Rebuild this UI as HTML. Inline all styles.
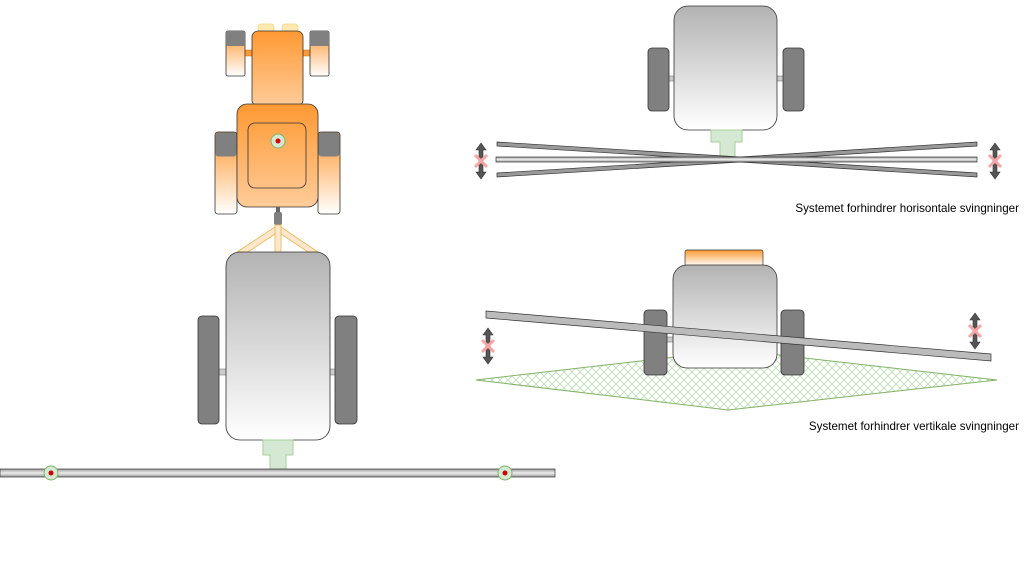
<!DOCTYPE html>
<html><head><meta charset="utf-8"><style>
html,body{margin:0;padding:0;background:#fff;width:1024px;height:580px;overflow:hidden}
svg{display:block}
text{font-family:"Liberation Sans",sans-serif;font-size:11.6px;fill:#000}
</style></head><body>
<svg width="1024" height="580" viewBox="0 0 1024 580" xmlns="http://www.w3.org/2000/svg">
<defs>
<linearGradient id="or" x1="0" y1="0" x2="0" y2="1"><stop offset="0" stop-color="#ff9933"/><stop offset="1" stop-color="#ffcc99"/></linearGradient>
<linearGradient id="orw" x1="0" y1="0" x2="0" y2="1"><stop offset="0" stop-color="#ff9933"/><stop offset="1" stop-color="#ffffff"/></linearGradient>
<linearGradient id="gr" x1="0" y1="0" x2="0" y2="1"><stop offset="0" stop-color="#b3b3b3"/><stop offset="1" stop-color="#ffffff"/></linearGradient>
<linearGradient id="bar" x1="0" y1="0" x2="0" y2="1"><stop offset="0" stop-color="#999"/><stop offset="0.5" stop-color="#eee"/><stop offset="1" stop-color="#999"/></linearGradient>
<pattern id="hatch" width="8" height="8" patternUnits="userSpaceOnUse"><path d="M0 0L8 8M8 0L0 8" stroke="#b9dcb0" stroke-width="0.8"/></pattern>
<g id="arr"><path d="M0 -18 L-5 -11 L-2 -11 L-2 11 L-5 11 L0 18 L5 11 L2 11 L2 -11 L5 -11 Z" fill="#555" stroke="#333" stroke-width="0.6"/><path d="M-6 -6 L6 6 M6 -6 L-6 6" stroke="#f5a5a5" stroke-width="3"/></g>
</defs>

<rect x="258" y="24" width="16" height="8" rx="3" fill="#ffe9b3" stroke="#f5d580" stroke-width="0.8"/>
<rect x="282" y="24" width="16" height="8" rx="3" fill="#ffe9b3" stroke="#f5d580" stroke-width="0.8"/>
<rect x="244" y="50" width="68" height="6" fill="#ff9933" stroke="#b87020" stroke-width="0.5"/>
<rect x="226" y="31" width="19" height="45" rx="2" fill="url(#orw)" stroke="#333" stroke-width="0.8"/>
<rect x="226" y="31" width="19" height="15" rx="2" fill="#808080"/>
<rect x="310" y="31" width="19" height="45" rx="2" fill="url(#orw)" stroke="#333" stroke-width="0.8"/>
<rect x="310" y="31" width="19" height="15" rx="2" fill="#808080"/>
<rect x="252" y="31" width="51" height="75" rx="6" fill="url(#or)" stroke="#333" stroke-width="0.8"/>
<rect x="215" y="132" width="22" height="82" rx="3" fill="url(#orw)" stroke="#333" stroke-width="0.8"/>
<rect x="215.5" y="132.5" width="21" height="24" rx="3" fill="#808080"/>
<rect x="318" y="132" width="22" height="82" rx="3" fill="url(#orw)" stroke="#333" stroke-width="0.8"/>
<rect x="318.5" y="132.5" width="21" height="24" rx="3" fill="#808080"/>
<rect x="237" y="104" width="81" height="103" rx="10" fill="url(#or)" stroke="#333" stroke-width="0.8"/>
<rect x="248" y="123" width="58" height="65" rx="7" fill="none" stroke="#333" stroke-width="0.8"/>
<circle cx="278" cy="141" r="7" fill="#d5e8d4" stroke="#82b366"/>
<circle cx="278" cy="141" r="2.5" fill="#d00"/>
<rect x="276" y="207" width="4" height="6" fill="#666"/>
<rect x="274" y="212" width="8" height="13" rx="2" fill="#808080"/>
<path d="M278 225 L237 252 L248 252 L278 232 L308 252 L318 252 Z" fill="#ffe6cc" stroke="#e6b84d" stroke-width="0.8"/>
<rect x="275" y="225" width="6" height="28" fill="#ffe6cc" stroke="#e6b84d" stroke-width="0.8"/>

<rect x="212" y="369" width="135" height="6" fill="#ccc" stroke="#666" stroke-width="0.5"/>
<rect x="198" y="316" width="21" height="108" rx="4" fill="#808080" stroke="#333" stroke-width="0.8"/>
<rect x="335" y="316" width="22" height="108" rx="4" fill="#808080" stroke="#333" stroke-width="0.8"/>
<rect x="226" y="252" width="104" height="188" rx="14" fill="url(#gr)" stroke="#333" stroke-width="0.8"/>
<path d="M263 440 H293 V455 H286 V470 H270 V455 H263 Z" fill="#d5e8d4" stroke="#a8cf9c"/>
<rect x="0" y="469" width="555" height="8" fill="url(#bar)" stroke="#333" stroke-width="0.7"/>
<circle cx="51" cy="473" r="7" fill="#d5e8d4" stroke="#82b366"/><circle cx="51" cy="473" r="2.5" fill="#c00"/>
<circle cx="505" cy="473" r="7" fill="#d5e8d4" stroke="#82b366"/><circle cx="505" cy="473" r="2.5" fill="#c00"/>

<rect x="660" y="76" width="130" height="5" fill="#ccc" stroke="#666" stroke-width="0.5"/>
<rect x="648" y="48" width="21" height="63" rx="4" fill="#808080" stroke="#333" stroke-width="0.8"/>
<rect x="783" y="48" width="21" height="63" rx="4" fill="#808080" stroke="#333" stroke-width="0.8"/>
<rect x="674" y="6" width="103" height="124" rx="14" fill="url(#gr)" stroke="#333" stroke-width="0.8"/>
<path d="M711 130 H742 V142 H735 V157 H720 V142 H711 Z" fill="#d5e8d4" stroke="#a8cf9c"/>
<path d="M497 142 L740 157 L977 142 L977 146 L740 161 L497 146 Z" fill="#999" stroke="#333" stroke-width="0.7"/>
<path d="M497 173 L740 158 L977 173 L977 177 L740 162 L497 177 Z" fill="#999" stroke="#333" stroke-width="0.7"/>
<rect x="496" y="157" width="481" height="5" fill="url(#bar)" stroke="#333" stroke-width="0.7"/>
<use href="#arr" x="481" y="161"/>
<use href="#arr" x="995" y="161"/>
<text x="1019" y="212" text-anchor="end">Systemet forhindrer horisontale svingninger</text>

<path d="M476 380 L735 350 L997 380 L728 410 Z" fill="url(#hatch)" stroke="#82b366" stroke-width="1"/>
<rect x="685" y="250" width="78" height="16" rx="2" fill="url(#orw)" stroke="#333" stroke-width="0.7"/>
<rect x="660" y="337" width="130" height="5" fill="#ccc" stroke="#666" stroke-width="0.5"/>
<rect x="644" y="310" width="23" height="65" rx="4" fill="#808080" stroke="#333" stroke-width="0.8"/>
<rect x="781" y="310" width="23" height="65" rx="4" fill="#808080" stroke="#333" stroke-width="0.8"/>
<rect x="673" y="265" width="104" height="103" rx="14" fill="url(#gr)" stroke="#333" stroke-width="0.8"/>
<path d="M486 311 L991 354 L991 361 L486 318 Z" fill="#bbb" stroke="#333" stroke-width="0.7"/>
<use href="#arr" x="488" y="346"/>
<use href="#arr" x="975" y="331"/>
<text x="1019" y="430" text-anchor="end">Systemet forhindrer vertikale svingninger</text>
</svg>
</body></html>
